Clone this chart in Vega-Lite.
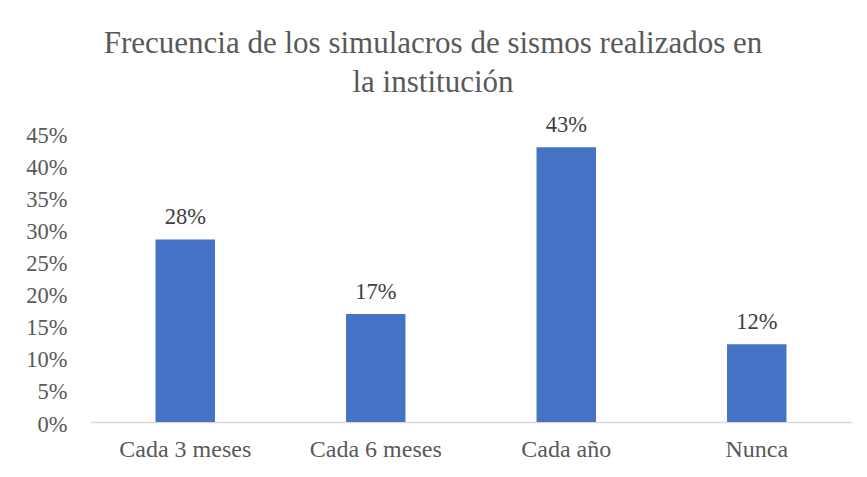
{
  "$schema": "https://vega.github.io/schema/vega-lite/v6.json",
  "width": 762,
  "height": 289,
  "autosize": {"type": "none"},
  "padding": {"left": 90, "top": 133, "right": 15, "bottom": 55},
  "background": "white",
  "title": {
    "text": ["Frecuencia de los simulacros de sismos realizados en", "la institución"],
    "font": "Liberation Serif",
    "fontSize": 31,
    "fontWeight": "normal",
    "color": "#595959",
    "lineHeight": 39,
    "offset": 15,
    "anchor": "middle",
    "frame": "group",
    "dx": -38
  },
  "data": {
    "values": [
      {"frecuencia": "Cada 3 meses", "pct": 0.284},
      {"frecuencia": "Cada 6 meses", "pct": 0.168},
      {"frecuencia": "Cada año", "pct": 0.428},
      {"frecuencia": "Nunca", "pct": 0.121}
    ]
  },
  "config": {
    "view": {"stroke": null},
    "font": "Liberation Serif"
  },
  "encoding": {
    "x": {
      "field": "frecuencia",
      "type": "nominal",
      "sort": null,
      "scale": {"paddingInner": 0.688, "paddingOuter": 0.344},
      "axis": {
        "title": null,
        "labelAngle": 0,
        "labelFont": "Liberation Serif",
        "labelFontSize": 24,
        "labelColor": "#595959",
        "labelPadding": 15,
        "ticks": false,
        "domainColor": "#d9d9d9",
        "domainWidth": 1.5
      }
    },
    "y": {
      "field": "pct",
      "type": "quantitative",
      "scale": {"domain": [0, 0.45], "nice": false},
      "axis": {
        "title": null,
        "format": ".0%",
        "values": [0, 0.05, 0.1, 0.15, 0.2, 0.25, 0.3, 0.35, 0.4, 0.45],
        "labelFont": "Liberation Serif",
        "labelFontSize": 22.5,
        "labelColor": "#595959",
        "labelPadding": 23,
        "labelOffset": 2,
        "ticks": false,
        "domain": false,
        "grid": false
      }
    }
  },
  "layer": [
    {"mark": {"type": "bar", "color": "#4472C4"}},
    {
      "mark": {"type": "text", "baseline": "alphabetic", "dy": -15.5, "font": "Liberation Serif", "fontSize": 22.5, "color": "#404040"},
      "encoding": {"text": {"field": "pct", "type": "quantitative", "format": ".0%"}}
    }
  ]
}
